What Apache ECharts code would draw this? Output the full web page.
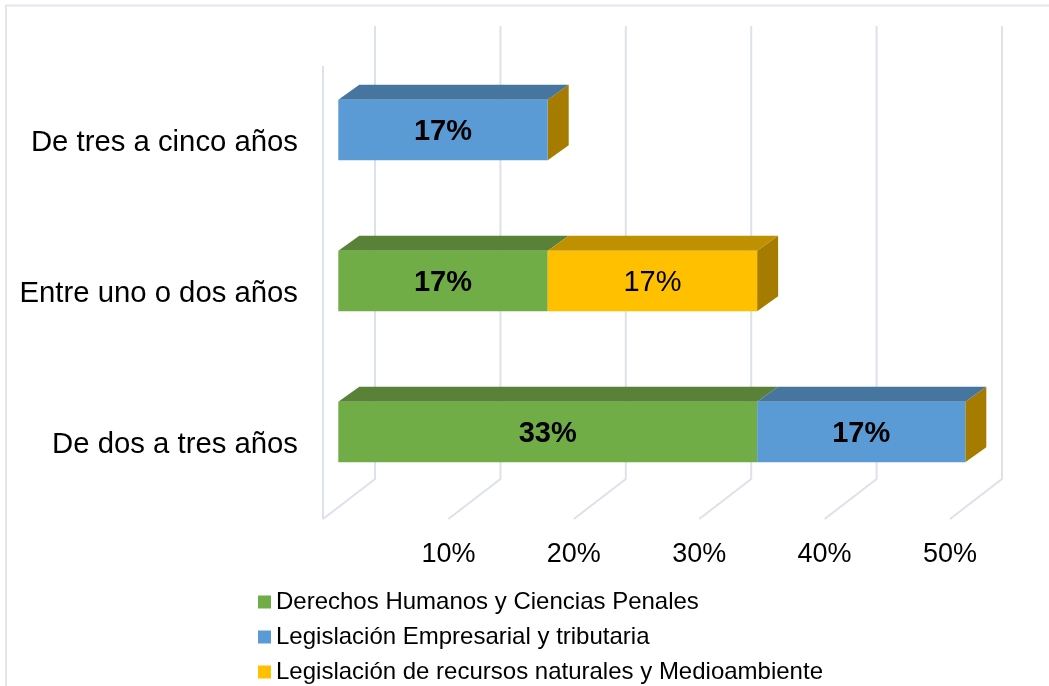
<!DOCTYPE html>
<html>
<head>
<meta charset="utf-8">
<style>
  html, body { margin: 0; padding: 0; background: #fff; }
  #main { width: 1049px; height: 686px; }
</style>
<script src="https://cdn.jsdelivr.net/npm/echarts@6/dist/echarts.min.js"></script>
</head>
<body>
<div id="main"></div>
<script>
var categories = ['De dos a tres años', 'Entre uno o dos años', 'De tres a cinco años'];
var derechos = [33.4, 16.7, 0];
var empresarial = [16.6, 0, 16.7];
var recursos = [0, 16.7, 0];
var xTicks = [0, 10, 20, 30, 40, 50];

var fontName = '"Liberation Sans", Arial, sans-serif';
var wallColor = '#dde1ea';
var sideColor = '#a67c00';
// desplazamiento del frente de la barra y fondo de la barra (falso 3D)
var gapX = 15.3, gapY = 11.5, depthX = 21, depthY = 15;
var wallX = 52, wallY = 40;

function pts(list) { return { points: list }; }

function stackRows(values, below, above) {
    return values.map(function (v, i) {
        var start = 0, rest = 0;
        below.forEach(function (b) { start += b[i]; });
        above.forEach(function (b) { rest += b[i]; });
        return [start, start + v, i, rest];
    });
}

function barSeries(name, values, below, above, color, topColor, bold) {
    return {
        name: name,
        type: 'custom',
        itemStyle: { color: color },
        encode: { x: [0, 1], y: 2 },
        data: stackRows(values, below, above),
        renderItem: function (params, api) {
            if (api.value(1) - api.value(0) <= 0) return null;
            var a = api.coord([api.value(0), api.value(2)]);
            var b = api.coord([api.value(1), api.value(2)]);
            var h = api.size([0, 1])[1] * 0.4;
            var x0 = a[0] + gapX, x1 = b[0] + gapX;
            var y0 = a[1] - gapY - h / 2, y1 = y0 + h;
            var kids = [
                { type: 'polygon', shape: pts([[x0, y0], [x0 + depthX, y0 - depthY], [x1 + depthX, y0 - depthY], [x1, y0]]), style: { fill: topColor } },
                { type: 'rect', shape: { x: x0, y: y0, width: x1 - x0, height: h }, style: { fill: color } },
                { type: 'text', style: {
                    text: Math.round(api.value(1) - api.value(0)) + '%',
                    x: (x0 + x1) / 2, y: (y0 + y1) / 2 + 1.5, align: 'center', verticalAlign: 'middle',
                    fill: '#000', font: (bold ? 'bold ' : '') + '29px ' + fontName
                } }
            ];
            // la cara lateral solo se ve en el ultimo tramo de la fila
            if (api.value(3) === 0) {
                kids.unshift({ type: 'polygon', shape: pts([[x1, y0], [x1 + depthX, y0 - depthY], [x1 + depthX, y1 - depthY], [x1, y1]]), style: { fill: sideColor } });
            }
            return { type: 'group', children: kids };
        }
    };
}

var wallSeries = {
    type: 'custom',
    silent: true,
    encode: { x: 0 },
    data: xTicks.map(function (t) { return [t]; }),
    renderItem: function (params, api) {
        var x = api.coord([api.value(0), 0])[0];
        var top = params.coordSys.y, bottom = top + params.coordSys.height;
        var line = [[x, bottom], [x + wallX, bottom - wallY], [x + wallX, top - wallY]];
        var kids = [{ type: 'polyline', shape: pts(line), style: { stroke: wallColor, lineWidth: 2, fill: null } }];
        if (api.value(0) === 0) {
            kids.push({ type: 'line', shape: { x1: x, y1: top, x2: x, y2: bottom }, style: { stroke: wallColor, lineWidth: 2 } });
        }
        return { type: 'group', children: kids };
    }
};

var myChart = echarts.init(document.getElementById('main'));
myChart.setOption({
    animation: false,
    textStyle: { fontFamily: fontName },
    graphic: [{
        type: 'polyline',
        shape: { points: [[6, 686], [6, 5.5], [1049, 5.5]] },
        style: { stroke: '#e2e6ec', lineWidth: 2, fill: null }
    }],
    grid: { left: 323, top: 66, width: 627, height: 453 },
    legend: {
        orient: 'vertical',
        left: 258,
        top: 590,
        padding: 0,
        itemWidth: 13,
        itemHeight: 13,
        itemGap: 11,
        icon: 'rect',
        selectedMode: false,
        textStyle: { fontSize: 24, color: '#000', fontFamily: fontName },
        data: ['Derechos Humanos y Ciencias Penales', 'Legislación Empresarial y tributaria', 'Legislación de recursos naturales y Medioambiente']
    },
    xAxis: {
        type: 'value',
        min: 0,
        max: 50,
        interval: 10,
        splitLine: { show: false },
        axisLine: { show: false },
        axisTick: { show: false },
        axisLabel: {
            margin: 22,
            fontSize: 27,
            color: '#000',
            formatter: function (v) { return v === 0 ? '' : v + '%'; }
        }
    },
    yAxis: {
        type: 'category',
        data: categories,
        axisLine: { show: false },
        axisTick: { show: false },
        axisLabel: {
            margin: 25,
            color: '#000',
            formatter: function (v) { return '{c|' + v + '}'; },
            rich: { c: { fontSize: 29.3, color: '#000', fontFamily: fontName, padding: [3, 0, 0, 0] } }
        }
    },
    series: [
        wallSeries,
        barSeries('Derechos Humanos y Ciencias Penales', derechos, [], [empresarial, recursos], '#70ad47', '#5a8138', true),
        barSeries('Legislación Empresarial y tributaria', empresarial, [derechos], [recursos], '#5b9bd5', '#4675a0', true),
        barSeries('Legislación de recursos naturales y Medioambiente', recursos, [derechos, empresarial], [], '#ffc000', '#bf9000', false)
    ]
});
</script>
</body>
</html>
